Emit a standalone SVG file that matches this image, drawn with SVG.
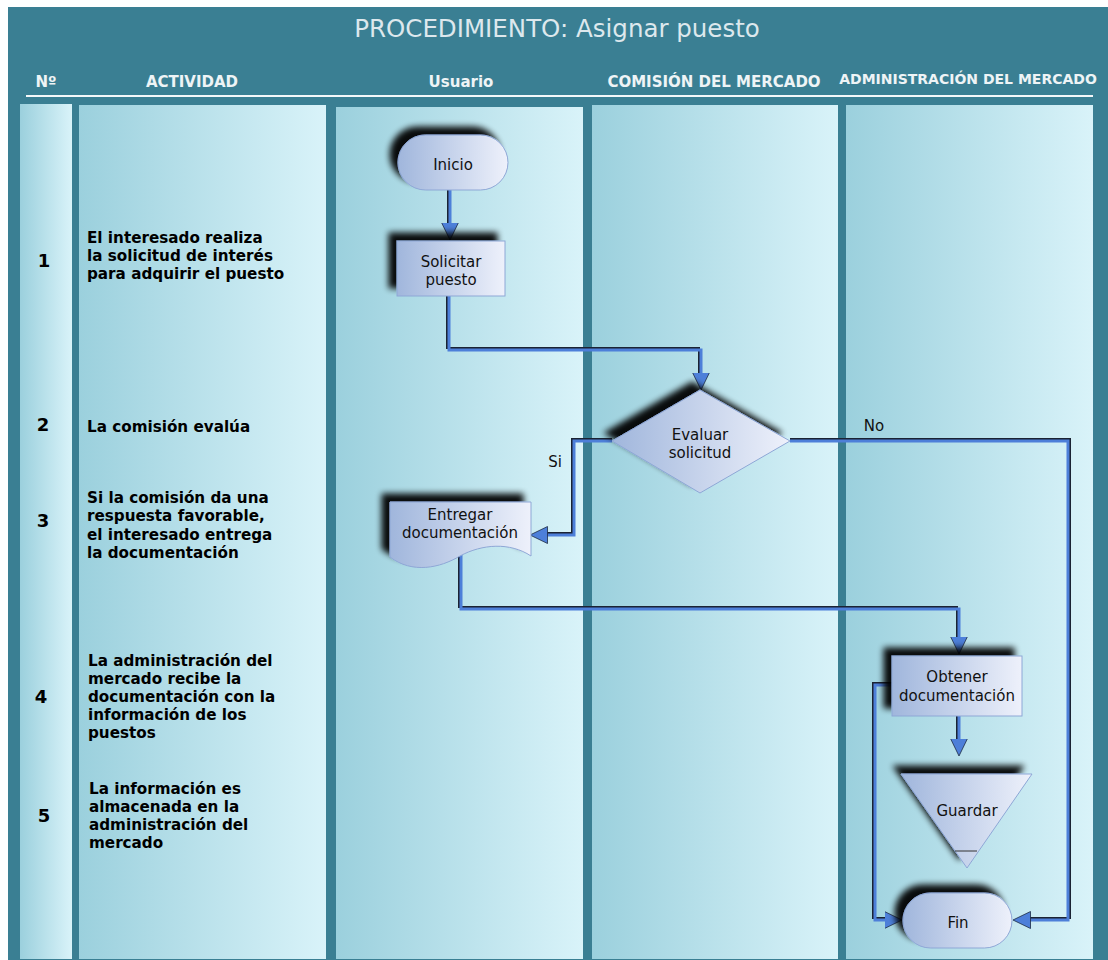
<svg xmlns="http://www.w3.org/2000/svg" width="1108" height="960" viewBox="0 0 1108 960">
<style>
.title{font-family:"DejaVu Sans",Verdana,sans-serif;font-size:24.5px;fill:#dde8ed;text-anchor:middle}
.hdr{font-family:"DejaVu Sans",Verdana,sans-serif;font-size:15px;font-weight:bold;fill:#eef4f6;text-anchor:middle}
.act{font-family:"DejaVu Sans",Verdana,sans-serif;font-size:15.2px;font-weight:bold;fill:#000}
.num{font-family:"DejaVu Sans",Verdana,sans-serif;font-size:18px;font-weight:bold;fill:#000;text-anchor:middle}
.nt{font-family:"DejaVu Sans",Verdana,sans-serif;font-size:15px;fill:#111;text-anchor:middle}
.lbl{font-family:"DejaVu Sans",Verdana,sans-serif;font-size:15px;fill:#111;text-anchor:middle}
.col{fill:url(#cg)}
.node{fill:url(#ng);stroke:#8ea7d6;stroke-width:1;filter:url(#sh)}
.cs{fill:none;stroke:#1b2333;stroke-width:2}
.cb{fill:none;stroke:#4d7fd9;stroke-width:3;marker-end:url(#arr)}
</style>
<defs>
<linearGradient id="cg" x1="0" y1="0" x2="1" y2="0">
<stop offset="0" stop-color="#9bd0dd"/>
<stop offset="1" stop-color="#d9f3f9"/>
</linearGradient>
<linearGradient id="ng" x1="0" y1="0" x2="1" y2="0">
<stop offset="0" stop-color="#a0b6dc"/>
<stop offset="1" stop-color="#eef1fb"/>
</linearGradient>
<filter id="sh" x="-30%" y="-30%" width="160%" height="160%">
<feGaussianBlur in="SourceAlpha" stdDeviation="3"/>
<feOffset dx="-8" dy="-8"/>
<feComponentTransfer><feFuncA type="linear" slope="0.95"/></feComponentTransfer>
<feMerge><feMergeNode/><feMergeNode in="SourceGraphic"/></feMerge>
</filter>
<marker id="arr" markerUnits="userSpaceOnUse" markerWidth="18" markerHeight="18" viewBox="0 0 18 18" refX="0.5" refY="9" orient="auto">
<path d="M0,0.5 L17.5,9 L0,17.5 Z" fill="#4d7fd9" stroke="#1d2b44" stroke-width="0.8"/>
</marker>
</defs>

<rect x="0" y="0" width="1108" height="960" fill="#ffffff"/>
<rect x="8" y="7" width="1100" height="953" fill="#3a7f93"/>

<g id="header">
<text class="title" x="557" y="37">PROCEDIMIENTO: Asignar puesto</text>
<text class="hdr" x="46" y="87">Nº</text>
<text class="hdr" x="192" y="87">ACTIVIDAD</text>
<text class="hdr" x="461" y="87">Usuario</text>
<text class="hdr" x="714" y="87">COMISIÓN DEL MERCADO</text>
<text class="hdr" x="968" y="84" style="font-size:14px">ADMINISTRACIÓN DEL MERCADO</text>
<rect x="26" y="95" width="1067" height="2" fill="#f4f8fa"/>
</g>

<g id="columns">
<rect class="col" x="20" y="104" width="52" height="855"/>
<rect class="col" x="79" y="105" width="247" height="854"/>
<rect class="col" x="336" y="107" width="247" height="852"/>
<rect class="col" x="592" y="105" width="246" height="854"/>
<rect class="col" x="846" y="105" width="247" height="854"/>
</g>

<g id="activities">
<text class="num" x="44" y="267">1</text>
<text class="act" x="87" y="243">El interesado realiza</text>
<text class="act" x="87" y="261">la solicitud de interés</text>
<text class="act" x="87" y="279">para adquirir el puesto</text>
<text class="num" x="43" y="431">2</text>
<text class="act" x="87" y="432">La comisión evalúa</text>
<text class="num" x="43" y="527">3</text>
<text class="act" x="87" y="503">Si la comisión da una</text>
<text class="act" x="87" y="521">respuesta favorable,</text>
<text class="act" x="87" y="540">el interesado entrega</text>
<text class="act" x="87" y="558">la documentación</text>
<text class="num" x="41" y="703">4</text>
<text class="act" x="88" y="666">La administración del</text>
<text class="act" x="88" y="684">mercado recibe la</text>
<text class="act" x="88" y="702">documentación con la</text>
<text class="act" x="88" y="720">información de los</text>
<text class="act" x="88" y="738">puestos</text>
<text class="num" x="44" y="822">5</text>
<text class="act" x="89" y="794">La información es</text>
<text class="act" x="89" y="812">almacenada en la</text>
<text class="act" x="89" y="830">administración del</text>
<text class="act" x="89" y="848">mercado</text>
</g>

<g id="connectors">
<path class="cs" d="M448,190 V223"/>
<path class="cb" d="M450,190 V223"/>
<path class="cs" d="M447,296 V348 H699 V373"/>
<path class="cb" d="M449,296 V350 H701 V373"/>
<path class="cs" d="M612,439 H572 V533 H547"/>
<path class="cb" d="M612,441 H574 V535 H547"/>
<path class="cs" d="M790,439 H1070 V918 H1030"/>
<path class="cb" d="M790,441 H1068 V920 H1030"/>
<path class="cs" d="M459,555 V607 H957 V637"/>
<path class="cb" d="M461,555 V609 H959 V637"/>
<path class="cs" d="M957,716 V739"/>
<path class="cb" d="M959,716 V739"/>
<path class="cs" d="M892,683 H873 V918 H885"/>
<path class="cb" d="M892,685 H875 V920 H885"/>
<text class="lbl" x="555" y="467">Si</text>
<text class="lbl" x="874" y="431">No</text>
</g>

<g id="inicio">
<rect class="node" x="398" y="135" width="110" height="55" rx="27.5"/>
<text class="nt" x="453" y="170">Inicio</text>
</g>

<g id="solicitar">
<rect class="node" x="397" y="241" width="108" height="55"/>
<text class="nt" x="451" y="267">Solicitar</text>
<text class="nt" x="451" y="285">puesto</text>
</g>

<g id="evaluar">
<polygon class="node" points="612,441 700,390 790,441 700,493"/>
<text class="nt" x="700" y="440">Evaluar</text>
<text class="nt" x="700" y="458">solicitud</text>
</g>

<g id="entregar">
<path class="node" d="M390,502 H531 V556 C510,542 482,544 460,556 C440,568 412,574 390,557 Z"/>
<text class="nt" x="460" y="520">Entregar</text>
<text class="nt" x="460" y="538">documentación</text>
</g>

<g id="obtener">
<rect class="node" x="892" y="656" width="130" height="60"/>
<text class="nt" x="957" y="682">Obtener</text>
<text class="nt" x="957" y="701">documentación</text>
</g>

<g id="guardar">
<polygon class="node" points="901,774 1032,774 967,868"/>
<line x1="955" y1="851" x2="977" y2="851" stroke="#333" stroke-width="1"/>
<text class="nt" x="967" y="816">Guardar</text>
</g>

<g id="fin">
<rect class="node" x="903" y="893" width="109" height="55" rx="27.5"/>
<text class="nt" x="958" y="928">Fin</text>
</g>
</svg>
